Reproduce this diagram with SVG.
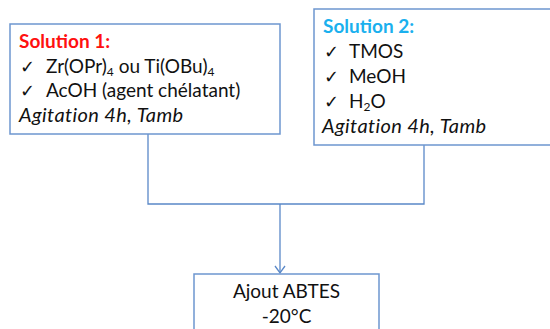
<svg xmlns="http://www.w3.org/2000/svg" width="550" height="329" viewBox="0 0 550 329">
<style>
.box{fill:#fff;stroke:#6d96cf;stroke-width:1.5}
.t{font-family:Lato,"Open Sans","DejaVu Sans",sans-serif;font-size:19px;fill:#111}
.ck{font-family:"DejaVu Sans",sans-serif;font-size:18px;fill:#111}
.h{font-weight:bold}
.i{font-style:italic;font-size:20px;letter-spacing:0.4px}
.ln{fill:none;stroke:#5a88c8;stroke-width:1.3}
.sub{font-size:12px}
</style>
<defs>
<marker id="arr" viewBox="0 0 10 12" refX="8" refY="6" markerWidth="10" markerHeight="12" markerUnits="userSpaceOnUse" orient="auto">
<path d="M1,1 L8,6 L1,11" fill="none" stroke="#5a88c8" stroke-width="1.3"/>
</marker>
</defs>
<rect width="550" height="329" fill="#fff"/>
<g id="connectors">
<path class="ln" d="M148,134 V204 H424 V145"/>
<path class="ln" d="M280,204 V273" marker-end="url(#arr)"/>
</g>
<g id="solution1">
<rect class="box" x="10" y="24" width="270" height="110"/>
<text class="t h" x="19" y="48" style="fill:#ff1010">Solution 1:</text>
<text class="ck" x="20" y="73">✓</text>
<text class="t" x="46" y="73">Zr(OPr)<tspan class="sub" dy="3">4</tspan><tspan dy="-3"> ou Ti(OBu)</tspan><tspan class="sub" dy="3">4</tspan></text>
<text class="ck" x="20" y="97">✓</text>
<text class="t" x="46" y="97">AcOH (agent chélatant)</text>
<text class="t i" x="19" y="122">Agitation 4h, Tamb</text>
</g>
<g id="solution2">
<rect class="box" x="314" y="9" width="250" height="136"/>
<text class="t h" x="323" y="33" style="fill:#1ab0ee">Solution 2:</text>
<text class="ck" x="324" y="58">✓</text>
<text class="t" x="349" y="58">TMOS</text>
<text class="ck" x="324" y="83">✓</text>
<text class="t" x="349" y="83">MeOH</text>
<text class="ck" x="324" y="108">✓</text>
<text class="t" x="349" y="108">H<tspan class="sub" dy="3">2</tspan><tspan dy="-3">O</tspan></text>
<text class="t i" x="322" y="133">Agitation 4h, Tamb</text>
</g>
<g id="ajout">
<rect class="box" x="194" y="274" width="185" height="70"/>
<text class="t" x="286.5" y="298" text-anchor="middle">Ajout ABTES</text>
<text class="t" x="286.5" y="323" text-anchor="middle">-20°C</text>
</g>
</svg>
